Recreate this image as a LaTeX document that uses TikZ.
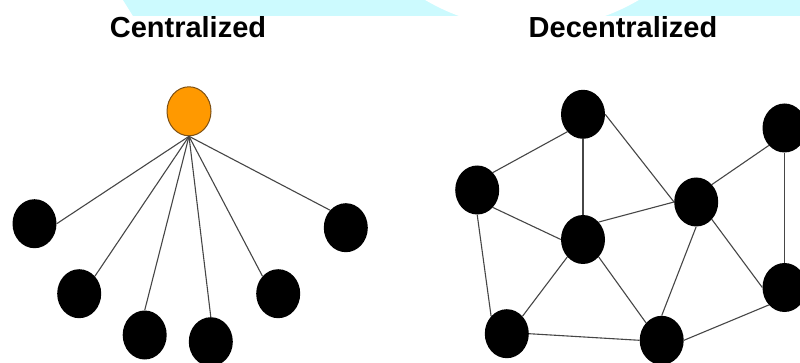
\documentclass[tikz,border=0pt]{standalone}
\usepackage{fontspec}
\setmainfont{Liberation Sans}
\usetikzlibrary{shapes.geometric}
\definecolor{bandcyan}{RGB}{204,250,254}
\definecolor{hubfill}{RGB}{255,153,0}
\definecolor{hubline}{RGB}{125,80,20}
\definecolor{wiregray}{RGB}{70,70,70}
\begin{document}
\begin{tikzpicture}[x=1pt,y=-1pt,
  peer/.style={ellipse, fill=black, minimum width=44pt, minimum height=49pt, inner sep=0pt},
  hub/.style={ellipse, fill=hubfill, draw=hubline, line width=1pt,
              minimum width=44pt, minimum height=49pt, inner sep=0pt},
  wire/.style={draw=wiregray, line width=1.1pt},
  heading/.style={font=\fontsize{29}{34}\selectfont\bfseries, anchor=base, inner sep=0pt}]
\useasboundingbox (0,0) rectangle (800,363);
\clip (0,0) rectangle (800,363);

% light band along the top edge, with a round notch
\fill[bandcyan] (123,0) -- (133,16) -- (800,16) -- (800,0) -- cycle;
\fill[white] (532,-182) circle[radius=211];

% headings
\node[heading] (ctitle) at (188,38) {Centralized};
\node[heading] (dtitle) at (623,38) {Decentralized};

% centralized: one hub with six clients
\node[hub]  (o)  at (189,111.3) {};
\node[peer] (c1) at (34.5,223.7) {};
\node[peer] (c2) at (79.2,293.7) {};
\node[peer] (c3) at (144.7,335) {};
\node[peer] (c4) at (210.8,341.7) {};
\node[peer] (c5) at (278.2,293.7) {};
\node[peer] (c6) at (345.8,227.7) {};

\draw[wire] (o.south) -- (c1.east);
\draw[wire] (o.south) -- (c2.north east);
\draw[wire] (o.south) -- (c3.north);
\draw[wire] (o.south) -- (c4.north);
\draw[wire] (o.south) -- (c5.north west);
\draw[wire] (o.south) -- (c6.north west);

% decentralized: peers linked to one another
\node[peer] (a) at (583,114.3) {};
\node[peer] (b) at (477.2,190) {};
\node[peer] (c) at (583,239.5) {};
\node[peer] (d) at (696.2,202) {};
\node[peer] (e) at (784.5,128) {};
\node[peer] (f) at (784.5,287.5) {};
\node[peer] (g) at (506.8,333.7) {};
\node[peer] (h) at (661.7,340.3) {};

\draw[wire] (a.south west) -- (b.north east);
\draw[wire] (a.south) -- (c.north);
\draw[wire] (a.east) -- (d.west);
\draw[wire] (b.south east) -- (c.west);
\draw[wire] (b.south) -- (g.north west);
\draw[wire] (c.north east) -- (d.west);
\draw[wire] (c.south west) -- (g.north east);
\draw[wire] (c.south east) -- (h.north west);
\draw[wire] (d.north east) -- (e.south west);
\draw[wire] (d.south) -- (h.north);
\draw[wire] (d.south east) -- (f.west);
\draw[wire] (e.south) -- (f.north);
\draw[wire] (g.east) -- (h.west);
\draw[wire] (h.east) -- (f.south west);
\end{tikzpicture}
\end{document}
